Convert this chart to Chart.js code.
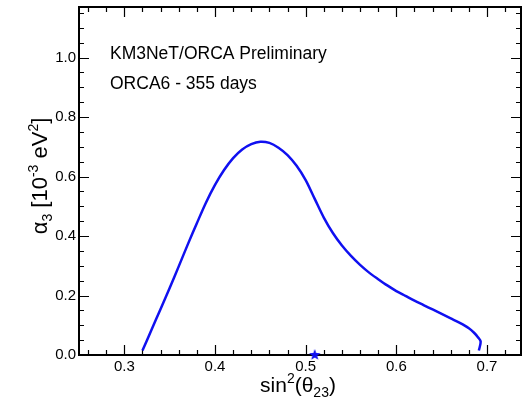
<!DOCTYPE html>
<html lang="en">
<head>
<meta charset="UTF-8">
<title>alpha3 vs sin2 theta23</title>
<style>
    body { margin: 0; background: #fff; }
    canvas { display: block; }
</style>
<script src="https://cdn.jsdelivr.net/npm/chart.js"></script>
</head>
<body>
<canvas id="c" width="529" height="400"></canvas>
<script>
// contour
const sin2Theta23 = [0.320, 0.330, 0.340, 0.350, 0.360, 0.370, 0.380, 0.390, 0.400, 0.410,
    0.420, 0.430, 0.440, 0.450, 0.460, 0.470, 0.480, 0.490, 0.500, 0.510,
    0.520, 0.530, 0.540, 0.550, 0.560, 0.570, 0.580, 0.590, 0.600, 0.610,
    0.620, 0.630, 0.640, 0.650, 0.660, 0.670, 0.680, 0.686, 0.690, 0.693, 0.691];
const alpha3 = [0.015, 0.085, 0.155, 0.225, 0.298, 0.372, 0.443, 0.512, 0.572, 0.622,
    0.662, 0.691, 0.709, 0.717, 0.713, 0.697, 0.672, 0.636, 0.588, 0.525,
    0.462, 0.410, 0.368, 0.333, 0.303, 0.277, 0.255, 0.234, 0.215, 0.199,
    0.183, 0.168, 0.153, 0.138, 0.123, 0.108, 0.090, 0.074, 0.060, 0.045, 0.015];
const bestFitX = [0.51];
const bestFitY = [0.0];

const xTicks = [0.3, 0.4, 0.5, 0.6, 0.7];
const yTicks = [0.0, 0.2, 0.4, 0.6, 0.8, 1.0];
const labelLines = ['KM3NeT/ORCA Preliminary', 'ORCA6 - 355 days'];

const FONT = '"Liberation Sans", Arial, sans-serif';
const BLUE = '#1010f0';

// filled five point star for the best fit marker
function makeStar(r) {
    const cv = document.createElement('canvas');
    cv.width = cv.height = r * 2 + 2;
    const g = cv.getContext('2d');
    g.translate(r + 1, r + 1);
    g.beginPath();
    for (let i = 0; i < 10; i++) {
        const rad = i % 2 === 0 ? r : r * 0.42;
        const a = -Math.PI / 2 + i * Math.PI / 5;
        g.lineTo(rad * Math.cos(a), rad * Math.sin(a));
    }
    g.closePath();
    g.fillStyle = BLUE;
    g.fill();
    return cv;
}

function drawRich(ctx, parts, x, y) {
    let total = 0;
    parts.forEach(p => {
        ctx.font = p.s + 'px ' + FONT;
        p.w = ctx.measureText(p.t).width;
        total += p.w;
    });
    let cx = x - total / 2;
    parts.forEach(p => {
        ctx.font = p.s + 'px ' + FONT;
        ctx.fillText(p.t, cx, y + (p.dy || 0));
        cx += p.w;
    });
}

const framePlugin = {
    id: 'frame',
    beforeDatasetsDraw(chart) {
        const { ctx, chartArea: a, scales: { x, y } } = chart;
        ctx.save();
        ctx.strokeStyle = '#000';
        ctx.lineWidth = 1.2;
        ctx.beginPath();
        for (let i = 13; i <= 36; i++) {
            const v = i * 0.02;
            const px = Math.round(x.getPixelForValue(v)) + 0.5;
            const len = i % 5 === 0 ? 10 : 5;
            ctx.moveTo(px, a.bottom); ctx.lineTo(px, a.bottom - len);
            ctx.moveTo(px, a.top); ctx.lineTo(px, a.top + len);
        }
        for (let i = 1; i <= 23; i++) {
            const v = i * 0.05;
            const py = Math.round(y.getPixelForValue(v)) + 0.5;
            const len = i % 4 === 0 ? 10 : 5;
            ctx.moveTo(a.left, py); ctx.lineTo(a.left + len, py);
            ctx.moveTo(a.right, py); ctx.lineTo(a.right - len, py);
        }
        ctx.stroke();
        ctx.lineWidth = 2;
        ctx.strokeRect(a.left, a.top, a.right - a.left, a.bottom - a.top);

        // text
        ctx.fillStyle = '#000';
        ctx.textBaseline = 'alphabetic';
        ctx.textAlign = 'left';
        ctx.font = '17.5px ' + FONT;
        ctx.fillText(labelLines[0], 110, 59);
        ctx.fillText(labelLines[1], 110, 89);

        drawRich(ctx, [
            { t: 'sin', s: 21 }, { t: '2', s: 14, dy: -9 }, { t: '(θ', s: 21 },
            { t: '23', s: 14, dy: 5 }, { t: ')', s: 21 }
        ], 298, 392);

        ctx.translate(47, 176);
        ctx.rotate(-Math.PI / 2);
        drawRich(ctx, [
            { t: 'α', s: 22 }, { t: '3', s: 14, dy: 5 }, { t: ' [10', s: 22 },
            { t: '-3', s: 14, dy: -9 }, { t: ' eV', s: 22 }, { t: '2', s: 14, dy: -9 },
            { t: ']', s: 22 }
        ], 0, 0);
        ctx.restore();
    }
};

new Chart(document.getElementById('c'), {
    type: 'scatter',
    data: {
        datasets: [{
            data: sin2Theta23.map((v, i) => ({ x: v, y: alpha3[i] })),
            showLine: true,
            borderColor: BLUE,
            borderWidth: 2.5,
            pointRadius: 0,
            tension: 0.3
        }, {
            data: bestFitX.map((v, i) => ({ x: v, y: bestFitY[i] })),
            pointStyle: makeStar(6),
            pointRadius: 6,
            clip: false
        }]
    },
    options: {
        responsive: false,
        animation: false,
        layout: { padding: { left: 0, right: 8, top: 5, bottom: 0 } },
        plugins: { legend: { display: false }, tooltip: { enabled: false } },
        scales: {
            x: {
                type: 'linear', min: 0.25, max: 0.7375,
                grid: { display: false, drawTicks: false },
                border: { display: false },
                afterBuildTicks: s => { s.ticks = xTicks.map(v => ({ value: v })); },
                afterFit: s => { s.height = 45; s.paddingLeft = 0; s.paddingRight = 0; },
                ticks: {
                    padding: 3, color: '#000', maxRotation: 0,
                    font: { family: FONT, size: 15 },
                    callback: v => v.toFixed(1)
                }
            },
            y: {
                min: 0, max: 1.17,
                grid: { display: false, drawTicks: false },
                border: { display: false },
                afterBuildTicks: s => { s.ticks = yTicks.map(v => ({ value: v })); },
                afterFit: s => { s.width = 79; s.paddingTop = 0; s.paddingBottom = 0; },
                ticks: {
                    padding: 3, color: '#000',
                    font: { family: FONT, size: 15 },
                    callback: v => v.toFixed(1)
                }
            }
        }
    },
    plugins: [framePlugin]
});
</script>
</body>
</html>
